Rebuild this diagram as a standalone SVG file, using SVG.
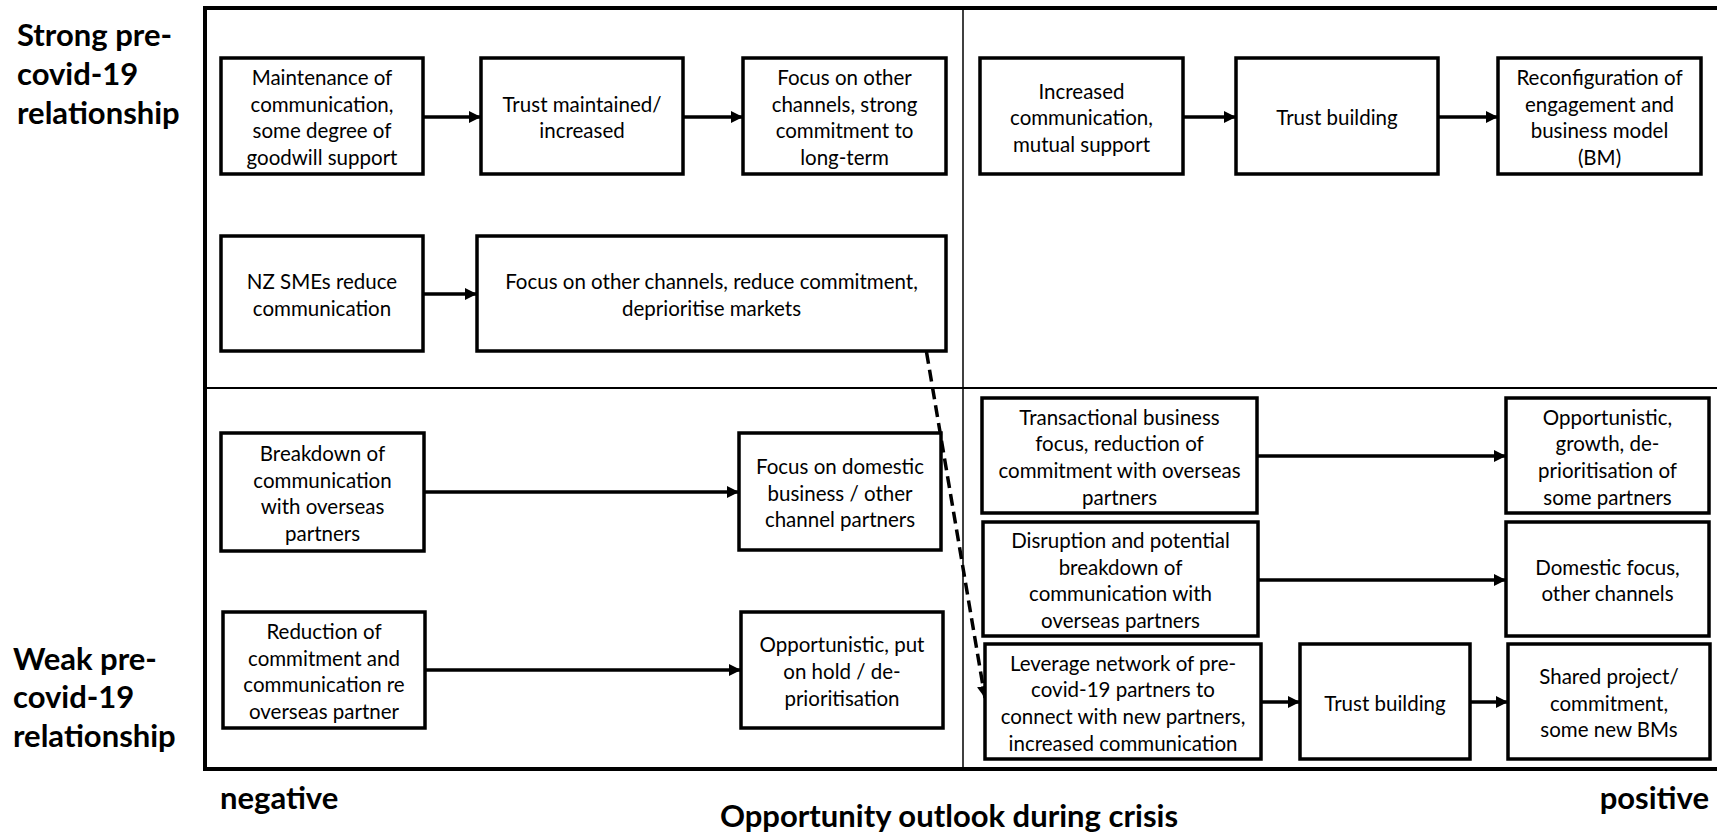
<svg xmlns="http://www.w3.org/2000/svg" width="1717" height="833" viewBox="0 0 1717 833">
<style>
.box{fill:#fff;stroke:#000;stroke-width:3.5}
.t{font-family:Lato,"Liberation Sans",sans-serif;font-size:20.5px;fill:#000;text-anchor:middle}
.lab{font-family:Lato,"Liberation Sans",sans-serif;font-size:31px;font-weight:bold;fill:#000}
.ar{stroke:#000;stroke-width:3.5;fill:none;marker-end:url(#ah)}
.dash{stroke:#000;stroke-width:3.5;fill:none;stroke-dasharray:12 6;marker-end:url(#ah)}
</style>
<defs>
<marker id="ah" markerUnits="userSpaceOnUse" markerWidth="13" markerHeight="12" refX="12" refY="6" orient="auto">
<path d="M0,0 L12,6 L0,12 z" fill="#000"/>
</marker>
</defs>
<rect width="1717" height="833" fill="#fff"/>
<g id="frame">
<rect x="205" y="8" width="1530" height="761" fill="none" stroke="#000" stroke-width="4"/>
<line x1="963" y1="8" x2="963" y2="769" stroke="#000" stroke-width="1.5"/>
<line x1="205" y1="388" x2="1717" y2="388" stroke="#000" stroke-width="2"/>
</g>
<g id="axis-labels">
<text class="lab" x="17" y="46">Strong pre-</text>
<text class="lab" x="17" y="85">covid-19</text>
<text class="lab" x="17" y="123.5">relationship</text>
<text class="lab" x="13" y="670">Weak pre-</text>
<text class="lab" x="13" y="708">covid-19</text>
<text class="lab" x="13" y="746.5">relationship</text>
<text class="lab" x="220" y="809">negative</text>
<text class="lab" x="1709" y="809" text-anchor="end">positive</text>
<text class="lab" x="949" y="827" text-anchor="middle">Opportunity outlook during crisis</text>
</g>
<g id="connectors">
<line class="ar" x1="423" y1="117" x2="481" y2="117"/>
<line class="ar" x1="683" y1="117" x2="743" y2="117"/>
<line class="ar" x1="1183" y1="117" x2="1236" y2="117"/>
<line class="ar" x1="1438" y1="117" x2="1498" y2="117"/>
<line class="ar" x1="423" y1="294" x2="477" y2="294"/>
<line class="ar" x1="424" y1="492" x2="739" y2="492"/>
<line class="ar" x1="425" y1="670" x2="741" y2="670"/>
<line class="ar" x1="1257" y1="456" x2="1506" y2="456"/>
<line class="ar" x1="1258" y1="580" x2="1506" y2="580"/>
<line class="ar" x1="1261" y1="702" x2="1300" y2="702"/>
<line class="ar" x1="1470" y1="702" x2="1508" y2="702"/>
<line class="dash" x1="926.5" y1="352" x2="985" y2="698"/>
</g>
<g id="nA"><rect class="box" x="221" y="58" width="202" height="116"/>
<text class="t" x="322" y="85">Maintenance of</text><text class="t" x="322" y="111.7">communication,</text><text class="t" x="322" y="138.4">some degree of</text><text class="t" x="322" y="165.1">goodwill support</text></g>
<g id="nB"><rect class="box" x="481" y="58" width="202" height="116"/>
<text class="t" x="582" y="111.5">Trust maintained/</text><text class="t" x="582" y="138.2">increased</text></g>
<g id="nC"><rect class="box" x="743" y="58" width="203" height="116"/>
<text class="t" x="844.5" y="85">Focus on other</text><text class="t" x="844.5" y="111.7">channels, strong</text><text class="t" x="844.5" y="138.4">commitment to</text><text class="t" x="844.5" y="165.1">long-term</text></g>
<g id="nD"><rect class="box" x="980" y="58" width="203" height="116"/>
<text class="t" x="1081.5" y="98.5">Increased</text><text class="t" x="1081.5" y="125.2">communication,</text><text class="t" x="1081.5" y="151.9">mutual support</text></g>
<g id="nE"><rect class="box" x="1236" y="58" width="202" height="116"/>
<text class="t" x="1337" y="125">Trust building</text></g>
<g id="nF"><rect class="box" x="1498" y="58" width="203" height="116"/>
<text class="t" x="1599.5" y="85">Reconfiguration of</text><text class="t" x="1599.5" y="111.7">engagement and</text><text class="t" x="1599.5" y="138.4">business model</text><text class="t" x="1599.5" y="165.1">(BM)</text></g>
<g id="nG"><rect class="box" x="221" y="236" width="202" height="115"/>
<text class="t" x="322" y="289">NZ SMEs reduce</text><text class="t" x="322" y="315.7">communication</text></g>
<g id="nH"><rect class="box" x="477" y="236" width="469" height="115"/>
<text class="t" x="711.5" y="289">Focus on other channels, reduce commitment,</text><text class="t" x="711.5" y="315.7">deprioritise markets</text></g>
<g id="nI"><rect class="box" x="221" y="433" width="203" height="118"/>
<text class="t" x="322.5" y="461">Breakdown of</text><text class="t" x="322.5" y="487.7">communication</text><text class="t" x="322.5" y="514.4">with overseas</text><text class="t" x="322.5" y="541.1">partners</text></g>
<g id="nJ"><rect class="box" x="739" y="433" width="202" height="117"/>
<text class="t" x="840" y="473.8">Focus on domestic</text><text class="t" x="840" y="500.5">business / other</text><text class="t" x="840" y="527.2">channel partners</text></g>
<g id="nK"><rect class="box" x="223" y="612" width="202" height="116"/>
<text class="t" x="324" y="639">Reduction of</text><text class="t" x="324" y="665.7">commitment and</text><text class="t" x="324" y="692.4">communication re</text><text class="t" x="324" y="719.1">overseas partner</text></g>
<g id="nL"><rect class="box" x="741" y="612" width="202" height="116"/>
<text class="t" x="842" y="652.3">Opportunistic, put</text><text class="t" x="842" y="679">on hold / de-</text><text class="t" x="842" y="705.7">prioritisation</text></g>
<g id="nM"><rect class="box" x="982" y="398" width="275" height="115"/>
<text class="t" x="1119.5" y="424.5">Transactional business</text><text class="t" x="1119.5" y="451.2">focus, reduction of</text><text class="t" x="1119.5" y="477.9">commitment with overseas</text><text class="t" x="1119.5" y="504.6">partners</text></g>
<g id="nN"><rect class="box" x="1506" y="398" width="203" height="115"/>
<text class="t" x="1607.5" y="424.5">Opportunistic,</text><text class="t" x="1607.5" y="451.2">growth, de-</text><text class="t" x="1607.5" y="477.9">prioritisation of</text><text class="t" x="1607.5" y="504.6">some partners</text></g>
<g id="nO"><rect class="box" x="983" y="522" width="275" height="114"/>
<text class="t" x="1120.5" y="548">Disruption and potential</text><text class="t" x="1120.5" y="574.7">breakdown of</text><text class="t" x="1120.5" y="601.4">communication with</text><text class="t" x="1120.5" y="628.1">overseas partners</text></g>
<g id="nP"><rect class="box" x="1506" y="522" width="203" height="114"/>
<text class="t" x="1607.5" y="574.7">Domestic focus,</text><text class="t" x="1607.5" y="601.4">other channels</text></g>
<g id="nQ"><rect class="box" x="985" y="644" width="276" height="115"/>
<text class="t" x="1123" y="670.5">Leverage network of pre-</text><text class="t" x="1123" y="697.2">covid-19 partners to</text><text class="t" x="1123" y="723.9">connect with new partners,</text><text class="t" x="1123" y="750.6">increased communication</text></g>
<g id="nR"><rect class="box" x="1300" y="644" width="170" height="115"/>
<text class="t" x="1385" y="710.5">Trust building</text></g>
<g id="nS"><rect class="box" x="1508" y="644" width="202" height="115"/>
<text class="t" x="1609" y="683.8">Shared project/</text><text class="t" x="1609" y="710.5">commitment,</text><text class="t" x="1609" y="737.2">some new BMs</text></g>
</svg>
